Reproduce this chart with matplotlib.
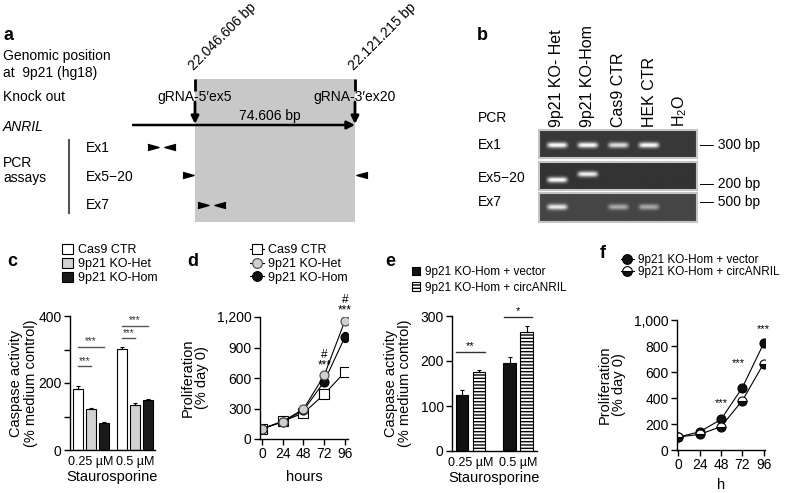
import numpy as np
import matplotlib
matplotlib.use("Agg")
import matplotlib.pyplot as plt
from matplotlib.patches import Rectangle, Patch
from matplotlib.lines import Line2D
from matplotlib.ticker import FuncFormatter

plt.rcParams['font.family'] = ['Liberation Sans', 'DejaVu Sans']
plt.rcParams['mathtext.fontset'] = 'custom'
plt.rcParams['mathtext.rm'] = 'Liberation Sans'
plt.rcParams['hatch.linewidth'] = 1.0
plt.rcParams['axes.linewidth'] = 1.0

W, H = 786, 493

# ---------------- data ----------------
# panel a: genomic schematic (hg18, 9p21)
ko_start_bp = 22046606
ko_end_bp = 22121215
anril_start_bp = 22017700
primer_rows = ['Ex1', 'Ex5−20', 'Ex7']
primer_fwd_bp = [22027000, 22043300, 22050300]
primer_rev_bp = [22034900, 22124500, 22058300]

# panel b: gel
lanes = ['9p21 KO- Het', '9p21 KO-Hom', 'Cas9 CTR', 'HEK CTR', 'H$_2$O']
gel_rows = ['Ex1', 'Ex5−20', 'Ex7']
band_intensity = [[1.0, 1.0, 0.85, 1.0, 0.0],
                  [1.0, 0.95, 0.0, 0.0, 0.0],
                  [0.9, 0.0, 0.55, 0.55, 0.0]]
band_pos = [[0.54, 0.54, 0.54, 0.54, 0.54],
            [0.64, 0.43, 0.5, 0.5, 0.5],
            [0.48, 0.48, 0.48, 0.48, 0.48]]
gel_bg = [0.22, 0.2, 0.27]
size_marks = ['300 bp', '200 bp', '500 bp']

# panel c
doses = ['0.25 µM', '0.5 µM']
c_groups = ['Cas9 CTR', '9p21 KO-Het', '9p21 KO-Hom']
c_vals = [[183, 302], [122, 135], [80, 150]]
c_err = [[7, 4], [3, 4], [4, 3]]
c_sig = [(0, 0, 1, 250, '***'), (0, 0, 2, 307, '***'),
         (1, 0, 1, 333, '***'), (1, 0, 2, 370, '***')]

# panel d
hours = [0, 24, 48, 72, 96]
d_cas9 = [100, 175, 255, 440, 660]
d_het = [100, 172, 295, 625, 1165]
d_hom = [100, 168, 282, 565, 1005]
d_cas9_err = [5, 8, 10, 15, 15]
d_het_err = [5, 8, 10, 15, 25]
d_hom_err = [5, 8, 10, 20, 50]
d_sig_x = [72, 96]
d_sig_y = [660, 1205]

# panel e
e_groups = ['9p21 KO-Hom + vector', '9p21 KO-Hom + circANRIL']
e_vals = [[125, 195], [175, 265]]
e_err = [[10, 14], [5, 13]]
e_sig = [(0, 220, '**'), (1, 298, '*')]

# panel f
f_groups = ['9p21 KO-Hom + vector', '9p21 KO-Hom + circANRIL']
f_vector = [100, 140, 235, 480, 820]
f_circ = [100, 120, 180, 380, 665]
f_vector_err = [5, 8, 12, 12, 12]
f_circ_err = [5, 8, 22, 12, 12]
f_sig_x = [48, 68, 96]
f_sig_y = [361, 670, 930]

# ---------------- figure ----------------
fig = plt.figure(figsize=(W / 100, H / 100), dpi=100)


def px_axes(x0, y0, x1, y1):
    return fig.add_axes([x0 / W, 1 - y1 / H, (x1 - x0) / W, (y1 - y0) / H])


def ftext(x, y, s, **kw):
    kw.setdefault('va', 'center')
    kw.setdefault('fontsize', 10)
    return fig.text(x / W, 1 - y / H, s, **kw)


def style_axes(ax):
    for s in ['top', 'right']:
        ax.spines[s].set_visible(False)
    ax.tick_params(direction='out', length=4, width=1, labelsize=10, pad=2)
    ax.tick_params(which='minor', direction='out', length=4, width=1)


def fig_legend(ax, handles, labels, x, y, **kw):
    opts = dict(loc='upper left', bbox_to_anchor=(x / W, 1 - y / H),
                bbox_transform=fig.transFigure, frameon=False,
                borderpad=0, borderaxespad=0)
    opts.update(kw)
    return ax.legend(handles, labels, **opts)


# ---- panel a ----
ax_a = px_axes(0, 0, 400, 240)
ax_a.axis('off')
bp_per_px = (ko_end_bp - ko_start_bp) / 160
x0_bp = ko_start_bp - 195 * bp_per_px
ax_a.set_xlim(x0_bp, x0_bp + 400 * bp_per_px)
ax_a.set_ylim(240, 0)

ax_a.add_patch(Rectangle((ko_start_bp, 79), ko_end_bp - ko_start_bp, 143,
                         facecolor='#c8c8c8', lw=0, zorder=0))
for bp, lab in [(ko_start_bp, "gRNA-5′ex5"), (ko_end_bp, "gRNA-3′ex20")]:
    ax_a.plot([bp, bp], [79, 91], color='k', lw=2, solid_capstyle='butt')
    ax_a.annotate('', xy=(bp, 124), xytext=(bp, 102),
                  arrowprops=dict(arrowstyle='-|>', lw=2, color='k',
                                  mutation_scale=11, shrinkA=0, shrinkB=0))
    ax_a.text(bp, 97, lab, ha='center', va='center', fontsize=10)
    ax_a.text(bp + 1 * bp_per_px, 73, f"{bp:,}".replace(',', '.') + ' bp',
              rotation=45, rotation_mode='anchor', ha='left', va='bottom',
              fontsize=10)

ax_a.annotate('', xy=(ko_end_bp, 125), xytext=(anril_start_bp, 125),
              arrowprops=dict(arrowstyle='-|>', lw=1.8, color='k',
                              mutation_scale=12, shrinkA=0, shrinkB=0))
ax_a.text(x0_bp + 270 * bp_per_px, 116, '74.606 bp', ha='center', va='center',
          fontsize=10)

row_y = [147, 175, 205]
tri_r = [(-1, -0.55), (1, 0), (-1, 0.55)]
tri_l = [(1, -0.55), (-1, 0), (1, 0.55)]
ax_a.plot(primer_fwd_bp, row_y, ls='none', marker=tri_r, ms=8, color='k')
ax_a.plot(primer_rev_bp, row_y, ls='none', marker=tri_l, ms=8, color='k')
ax_a.plot([x0_bp + 69 * bp_per_px] * 2, [140, 213], color='#555555', lw=1.5)

ftext(3, 35, 'a', fontsize=13, fontweight='bold')
ftext(3, 56, 'Genomic position')
ftext(3, 73, 'at  9p21 (hg18)')
ftext(3, 97, 'Knock out')
ftext(3, 127, 'ANRIL', style='italic')
ftext(3, 163, 'PCR')
ftext(3, 178, 'assays')
for lab, y in zip(primer_rows, [148, 177, 205]):
    ftext(86, y, lab)

# ---- panel b ----
lane_x = np.arange(len(lanes))
gel_left, gel_right = -0.586, 4.56
strips = [(130, 158), (162, 190), (193, 222)]
gx = np.linspace(gel_left, gel_right, 200)
gy = np.linspace(0, 1, 40)
GX, GY = np.meshgrid(gx, gy)
for i, (y0, y1) in enumerate(strips):
    ax = px_axes(539, y0, 697, y1)
    img = np.full(GX.shape, gel_bg[i])
    for j in range(len(lanes)):
        amp = band_intensity[i][j]
        if amp <= 0:
            continue
        prof = np.exp(-((GX - lane_x[j]) / 0.33) ** 6) * np.exp(-((GY - band_pos[i][j]) / 0.1) ** 2)
        img = img + amp * (1 - gel_bg[i]) * prof
    ax.imshow(np.clip(img, 0, 1), extent=[gel_left, gel_right, 1, 0], cmap='gray',
              vmin=0, vmax=1, aspect='auto', interpolation='bilinear')
    ax.set_xlim(gel_left, gel_right)
    ax.set_ylim(1, 0)
    ax.set_xticks([])
    ax.set_yticks([])
    for s in ax.spines.values():
        s.set_color('#c4c4c4')
        s.set_linewidth(1.5)
    if i == 0:
        for j, lab in enumerate(lanes):
            ax.annotate(lab, xy=(lane_x[j], 1), xycoords=('data', 'axes fraction'),
                        xytext=(0, 2), textcoords='offset points', rotation=90,
                        ha='center', va='bottom', fontsize=11.5)

ftext(477, 35, 'b', fontsize=13, fontweight='bold')
ftext(478, 118, 'PCR')
for lab, y in zip(gel_rows, [145, 178, 202]):
    ftext(478, y, lab)
for lab, y in zip(size_marks, [145, 184, 202]):
    ftext(700, y, '— ' + lab)

# ---- panel c ----
ax_c = px_axes(70, 316, 155, 450)
style_axes(ax_c)
c_off = [-0.295, 0, 0.295]
c_colors = ['white', '#d2d2d2', '#1a1a1a']
groups_x = np.arange(len(doses))
for k, name in enumerate(c_groups):
    ax_c.bar(groups_x + c_off[k], c_vals[k], width=0.23, color=c_colors[k],
             edgecolor='k', lw=0.8,
             yerr=[np.zeros(len(doses)), c_err[k]], capsize=1.5,
             error_kw=dict(elinewidth=0.8, capthick=0.8, ecolor='k'))
for g, b0, b1, y, lab in c_sig:
    xa, xb = g + c_off[b0], g + c_off[b1]
    ax_c.plot([xa, xb], [y, y], color='#555555', lw=1, clip_on=False)
    ax_c.text((xa + xb) / 2, y + 2, lab, ha='center', va='bottom', fontsize=7,
              color='#333333', clip_on=False)
ax_c.set_xlim(-0.477, 1.455)
ax_c.set_ylim(0, 400)
ax_c.set_yticks([0, 200, 400])
ax_c.set_yticks([100, 300], minor=True)
ax_c.set_xticks(groups_x)
ax_c.set_xticklabels(doses, fontsize=9)
ax_c.tick_params(axis='x', length=0, pad=4)
ax_c.set_ylabel('Caspase activity\n(% medium control)', fontsize=10.5,
                labelpad=0, linespacing=1.1)
ax_c.set_xlabel('Staurosporine', fontsize=10.5, labelpad=2)
c_handles = [Patch(facecolor=c, edgecolor='k', lw=0.8) for c in c_colors]
fig_legend(ax_c, c_handles, c_groups, 62, 244, fontsize=9,
           handlelength=0.9, handleheight=0.8, handletextpad=0.35,
           labelspacing=0.15)
ftext(7, 262, 'c', fontsize=13, fontweight='bold')

# ---- panel d ----
ax_d = px_axes(260, 317, 348, 439)
style_axes(ax_d)
line_kw = dict(color='k', lw=0.8, ms=6.5, mew=0.8, capsize=1.5, elinewidth=0.8)
d_style = [dict(marker='s', mfc='white', mec='k'),
           dict(marker='o', mfc='#cfcfcf', mec='#444444'),
           dict(marker='o', mfc='#111111', mec='k')]
ax_d.errorbar(hours, d_cas9, yerr=d_cas9_err, **d_style[0], **line_kw)
ax_d.errorbar(hours, d_hom, yerr=d_hom_err, **d_style[2], **line_kw)
ax_d.errorbar(hours, d_het, yerr=d_het_err, **d_style[1], **line_kw)
for x, y in zip(d_sig_x, d_sig_y):
    ax_d.text(x, y, '#\n***', ha='center', va='bottom', fontsize=8.5,
              linespacing=0.85, clip_on=False)
ax_d.set_xlim(-2.3, 99.5)
ax_d.set_ylim(0, 1200)
ax_d.set_xticks(hours)
ax_d.set_yticks([0, 300, 600, 900, 1200])
ax_d.yaxis.set_major_formatter(FuncFormatter(lambda v, p: f"{int(v):,}"))
ax_d.set_ylabel('Proliferation\n(% day 0)', fontsize=10.5, labelpad=6, linespacing=1.0)
ax_d.set_xlabel('hours', fontsize=10.5, labelpad=6)
d_handles = [Line2D([], [], color='k', lw=0.8, ms=7, mew=0.8, **s) for s in d_style]
fig_legend(ax_d, d_handles, ['Cas9 CTR', '9p21 KO-Het', '9p21 KO-Hom'], 250, 244,
           fontsize=9, handlelength=1.1, handletextpad=0.35, labelspacing=0.15)
ftext(187, 262, 'd', fontsize=13, fontweight='bold')

# ---- panel e ----
ax_e = px_axes(452, 316, 537, 451)
style_axes(ax_e)
e_off = [-0.179, 0.179]
e_face = ['#111111', 'white']
e_hatch = [None, '-----']
for k, name in enumerate(e_groups):
    ax_e.bar(groups_x + e_off[k], e_vals[k], width=0.27, color=e_face[k],
             edgecolor='k', lw=0.8, hatch=e_hatch[k], label=name,
             yerr=[np.zeros(len(doses)), e_err[k]], capsize=1.5,
             error_kw=dict(elinewidth=0.8, capthick=0.8, ecolor='k'))
for g, y, lab in e_sig:
    xa, xb = g + e_off[0] - 0.12, g + e_off[1] + 0.12
    ax_e.plot([xa, xb], [y, y], color='#333333', lw=1, clip_on=False)
    ax_e.text((xa + xb) / 2, y + 2, lab, ha='center', va='bottom', fontsize=8,
              clip_on=False)
ax_e.set_xlim(-0.39, 1.4)
ax_e.set_ylim(0, 300)
ax_e.set_yticks([0, 100, 200, 300])
ax_e.set_xticks(groups_x)
ax_e.set_xticklabels(doses, fontsize=9)
ax_e.tick_params(axis='x', length=0, pad=4)
ax_e.set_ylabel('Caspase activity\n(% medium control)', fontsize=10.5,
                labelpad=6, linespacing=1.0)
ax_e.set_xlabel('Staurosporine', fontsize=10.5, labelpad=2)
e_handles = [Patch(facecolor=e_face[k], edgecolor='k', lw=0.8, hatch=e_hatch[k])
             for k in range(2)]
fig_legend(ax_e, e_handles, e_groups, 412, 266, fontsize=8.5,
           handlelength=0.7, handleheight=0.7, handletextpad=0.4,
           labelspacing=0.3)
ftext(385, 262, 'e', fontsize=13, fontweight='bold')

# ---- panel f ----
ax_f = px_axes(677, 320, 765, 450)
style_axes(ax_f)
f_style = [dict(marker='o', mfc='#111111', mec='k'),
           dict(marker='o', fillstyle='bottom', mfc='#111111', mfcalt='white', mec='k')]
ax_f.errorbar(hours, f_vector, yerr=f_vector_err, **f_style[0], **line_kw)
ax_f.errorbar(hours, f_circ, yerr=f_circ_err, **f_style[1], **line_kw)
for x, y in zip(f_sig_x, f_sig_y):
    ax_f.text(x, y, '***', ha='center', va='center', fontsize=8, clip_on=False)
ax_f.set_xlim(-1.5, 97.5)
ax_f.set_ylim(0, 1000)
ax_f.set_xticks(hours)
ax_f.set_yticks([0, 200, 400, 600, 800, 1000])
ax_f.yaxis.set_major_formatter(FuncFormatter(lambda v, p: f"{int(v):,}"))
ax_f.set_ylabel('Proliferation\n(% day 0)', fontsize=10.5, labelpad=6, linespacing=1.0)
ax_f.set_xlabel('h', fontsize=10.5, labelpad=4)
f_handles = [Line2D([], [], color='k', lw=0.8, ms=7, mew=0.8, **s) for s in f_style]
fig_legend(ax_f, f_handles, f_groups, 621, 254, fontsize=8.5,
           handlelength=1.1, handletextpad=0.3, labelspacing=0.0)
ftext(600, 253, 'f', fontsize=13, fontweight='bold')

fig.savefig('out.png', dpi=100, facecolor='white')
